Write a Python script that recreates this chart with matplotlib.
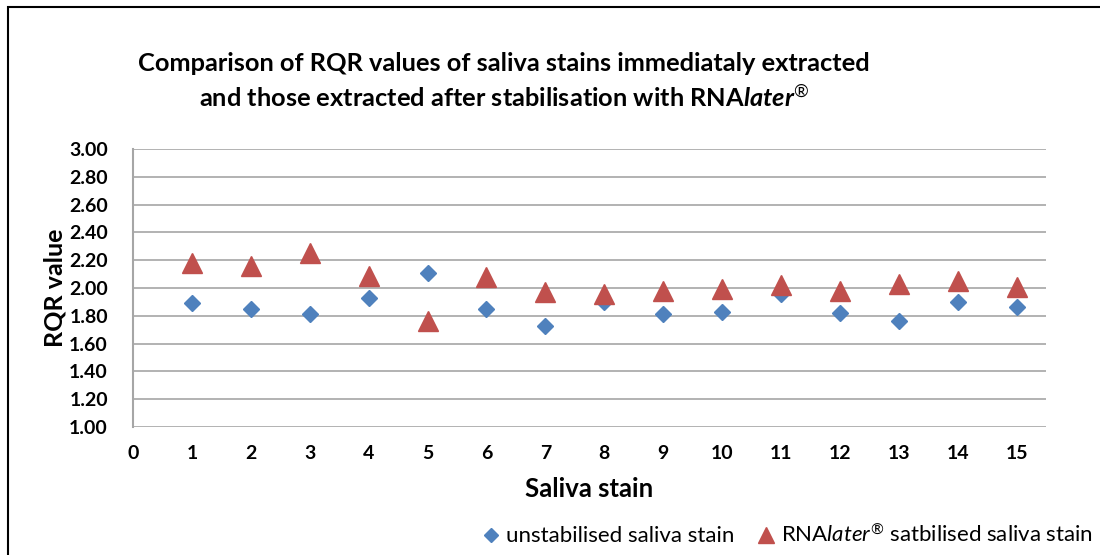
import matplotlib
matplotlib.use('Agg')
import matplotlib.pyplot as plt
from matplotlib.patches import Rectangle

plt.rcParams['font.family'] = ['Lato', 'DejaVu Sans']
plt.rcParams['mathtext.fontset'] = 'custom'
plt.rcParams['mathtext.rm'] = 'Lato'
plt.rcParams['mathtext.it'] = 'Lato:italic'
plt.rcParams['mathtext.bf'] = 'Lato:bold'
plt.rcParams['mathtext.bfit'] = 'Lato:bold:italic'

# data
stain = list(range(1, 16))
unstabilised = [1.89, 1.85, 1.81, 1.93, 2.11, 1.85, 1.73, 1.90, 1.81, 1.83, 1.96, 1.82, 1.76, 1.90, 1.86]
rnalater = [2.18, 2.16, 2.25, 2.09, 1.76, 2.08, 1.97, 1.96, 1.98, 1.99, 2.02, 1.98, 2.03, 2.05, 2.01]
yticks = [1.0 + 0.2 * i for i in range(11)]

blue = '#4F81BD'
red = '#C0504D'
grid = '#A6A6A6'

fig = plt.figure(figsize=(11, 5.55), dpi=100)
ax = fig.add_axes([0.1209, 0.2306, 0.8300, 0.5009])

ax.plot(stain, unstabilised, linestyle='none', marker='D', ms=8.5, color=blue,
        label='unstabilised saliva stain')
ax.plot(stain, rnalater, linestyle='none', marker='^', ms=14, color=red,
        label=r'RNA$\mathit{later}^{®}$ satbilised saliva stain')

ax.set_xlim(0, 15.5)
ax.set_ylim(1.0, 3.0)
ax.set_xticks(range(0, 16))
ax.set_yticks(yticks)
ax.set_yticklabels(['%.2f' % v for v in yticks])
ax.tick_params(length=0, labelsize=14)
ax.tick_params(axis='y', pad=18)
ax.tick_params(axis='x', pad=13)
for lab in ax.get_xticklabels() + ax.get_yticklabels():
    lab.set_fontweight('bold')

ax.grid(axis='y', color=grid, linewidth=1.2)
ax.set_axisbelow(True)
for s in ['top', 'right', 'bottom']:
    ax.spines[s].set_visible(False)
ax.spines['left'].set_color(grid)
ax.spines['left'].set_linewidth(1.5)

ax.set_xlabel('Saliva stain', fontsize=18.5, fontweight='bold', labelpad=11)
ax.set_ylabel('RQR value', fontsize=18, fontweight='bold', labelpad=2)

fig.text(0.458, 0.885, 'Comparison of RQR values of saliva stains immediataly extracted',
         ha='center', va='center', fontsize=18.3, fontweight='bold')
fig.text(0.458, 0.825, r'and those extracted after stabilisation with RNA$\mathbfit{later}^{®}$',
         ha='center', va='center', fontsize=18.3, fontweight='bold')

fig.legend(loc='center', bbox_to_anchor=(0.715, 0.036), ncol=2, frameon=False,
           fontsize=16, handletextpad=0.2, columnspacing=0.9, handlelength=1.0,
           markerscale=0.8)

# outer chart frame (cropped on right and bottom)
fig.patches.append(Rectangle((8 / 1100, -0.1), 1.2, (555 - 7) / 555 + 0.1,
                             transform=fig.transFigure, fill=False,
                             edgecolor='black', linewidth=1.5))

fig.savefig('out.png', dpi=100)
